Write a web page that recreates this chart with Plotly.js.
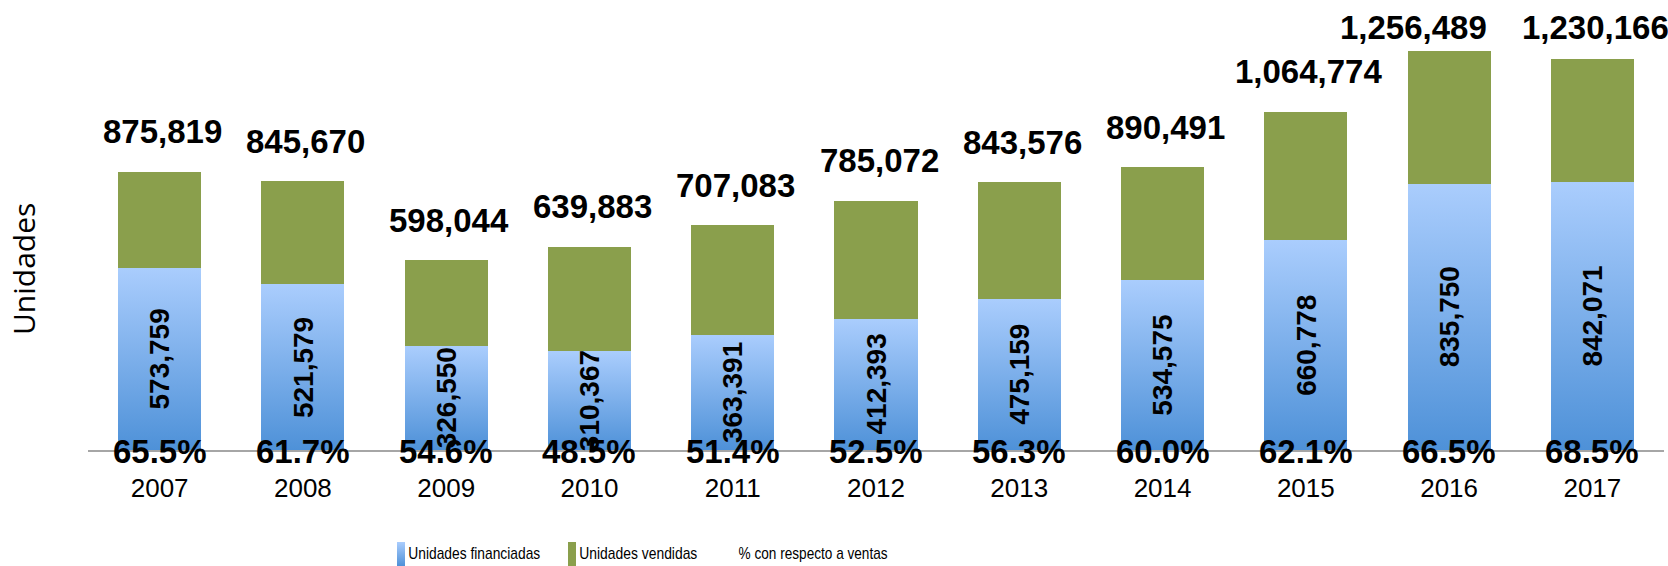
<!DOCTYPE html>
<html>
<head>
<meta charset="utf-8">
<script src="https://cdn.plot.ly/plotly-3.0.1.min.js"></script>
<style>
  html, body { margin: 0; padding: 0; background: #fff; }
  #chart { width: 1668px; height: 566px; }
</style>
</head>
<body>
<div id="chart"></div>
<script>
// ---- data ----
const years = ['2007','2008','2009','2010','2011','2012','2013','2014','2015','2016','2017'];
const financiadas = [573759, 521579, 326550, 310367, 363391, 412393, 475159, 534575, 660778, 835750, 842071];
const vendidasTotal = [875819, 845670, 598044, 639883, 707083, 785072, 843576, 890491, 1064774, 1256489, 1230166];
const porcentaje = [65.5, 61.7, 54.6, 48.5, 51.4, 52.5, 56.3, 60.0, 62.1, 66.5, 68.5];

// ---- layout constants ----
const W = 1668, H = 566;
const M = {l: 88, r: 4, t: 10, b: 116};
const PW = W - M.l - M.r, PH = H - M.t - M.b;
const YMAX = 1385000;
const BOLD = 'Liberation Sans, Arial, sans-serif';
const BIG = 33;
const fmt = v => v.toLocaleString('en-US');
const pxX = px => (px - M.l) / PW;
const pxY = py => (M.t + PH - py) / PH;
const yPix = v => M.t + PH * (1 - v / YMAX);
const xPix = i => M.l + PW * (i + 0.5) / years.length;
const PCT_DROP_PX = 1;

// remainder stacked on top of the financed units, so the bar top equals total sold
const resto = vendidasTotal.map((t, i) => t - financiadas[i]);

const traces = [
  {
    type: 'bar', name: 'Unidades financiadas', x: years, y: financiadas,
    marker: {color: '#7fb1ec', line: {width: 0}}, hoverinfo: 'x+y', showlegend: false
  },
  {
    type: 'bar', name: 'Unidades vendidas', x: years, y: resto,
    customdata: vendidasTotal, hovertemplate: '%{x}: %{customdata:,}<extra></extra>',
    marker: {color: '#8a9f4c', line: {width: 0}}, showlegend: false
  }
];

const annotations = [];
// totals above bars (a label that would collide with the next one is pushed left)
const totalTxt = vendidasTotal.map(fmt);
const estW = s => BIG * (s.replace(/,/g, '').length * 0.556 + (s.match(/,/g) || []).length * 0.278);
const xs = totalTxt.map((s, i) => xPix(i) + 3);
const ys = vendidasTotal.map(t => Math.max(yPix(t) - 40, 27));
for (let i = xs.length - 2; i >= 0; i--) {
  if (Math.abs(ys[i] - ys[i + 1]) > BIG) continue;
  const right = xs[i] + estW(totalTxt[i]) / 2;
  const nextLeft = xs[i + 1] - estW(totalTxt[i + 1]) / 2;
  if (right > nextLeft - 10) xs[i] -= right - (nextLeft - 35);
}
vendidasTotal.forEach((t, i) => {
  annotations.push({
    x: i, y: t, xref: 'x', yref: 'y', yshift: yPix(t) - ys[i], xshift: xs[i] - xPix(i),
    text: '<b>' + totalTxt[i] + '</b>', showarrow: false,
    font: {family: BOLD, size: BIG, color: '#000'}, xanchor: 'center', yanchor: 'middle'
  });
});
// financed values, rotated, inside blue segment
financiadas.forEach((f, i) => {
  annotations.push({
    x: i, y: f / 2, xref: 'x', yref: 'y', textangle: -90,
    text: '<b>' + fmt(f) + '</b>', showarrow: false,
    xanchor: 'center', yanchor: 'middle',
    font: {family: BOLD, size: 28, color: '#000'}
  });
});
// percentage of sales, on the baseline
porcentaje.forEach((p, i) => {
  annotations.push({
    x: i, y: 0, xref: 'x', yref: 'y', yshift: -PCT_DROP_PX,
    text: '<b>' + p.toFixed(1) + '%</b>', showarrow: false,
    xanchor: 'center', yanchor: 'middle',
    font: {family: BOLD, size: BIG, color: '#000'}
  });
});
// y title
annotations.push({
  x: pxX(23), y: pxY(269), xref: 'paper', yref: 'paper', textangle: -90,
  xanchor: 'center', yanchor: 'middle',
  text: 'Unidades', showarrow: false,
  font: {family: 'Open Sans, sans-serif', size: 30, color: '#000'}
});
// custom legend
const legendItems = [
  {swatch: 397, textX: 408, textW: 132, label: 'Unidades financiadas', color: '#7fb1ec'},
  {swatch: 568, textX: 579, textW: 118, label: 'Unidades vendidas', color: '#8a9f4c'},
  {swatch: null, textX: 738, textW: 149, label: '% con respecto a ventas'}
];
const legendAnnStart = annotations.length;
const shapes = [];
legendItems.forEach(it => {
  if (it.swatch !== null) {
    shapes.push({type: 'rect', xref: 'paper', yref: 'paper',
      x0: pxX(it.swatch), x1: pxX(it.swatch + 8), y0: pxY(566), y1: pxY(542),
      fillcolor: it.color, line: {width: 0}});
  }
  annotations.push({
    x: pxX(it.textX + it.textW / 2), y: pxY(553), xref: 'paper', yref: 'paper',
    xanchor: 'center', yanchor: 'middle', text: it.label, showarrow: false,
    font: {family: 'Liberation Sans, Arial, sans-serif', size: 17, color: '#000'}
  });
});

const layout = {
  width: W, height: H,
  margin: M,
  paper_bgcolor: '#fff', plot_bgcolor: '#fff',
  barmode: 'stack', bargap: 0.42,
  showlegend: false,
  xaxis: {
    type: 'category', range: [-0.5, 10.5], fixedrange: true,
    showgrid: false, zeroline: false, showline: true, linecolor: '#a6a6a6', linewidth: 2,
    ticks: '', tickfont: {family: 'Liberation Sans, Arial, sans-serif', size: 26, color: '#000'},
    ticklabelstandoff: 14, layer: 'below traces'
  },
  yaxis: {
    range: [0, YMAX], fixedrange: true, showgrid: false, zeroline: false,
    showline: false, showticklabels: false, ticks: ''
  },
  annotations: annotations,
  shapes: shapes
};

const gd = document.getElementById('chart');
Plotly.newPlot(gd, traces, layout, {displayModeBar: false, staticPlot: true}).then(() => {
  const svg = gd.querySelector('svg.main-svg');
  const ns = 'http://www.w3.org/2000/svg';
  let defs = svg.querySelector('defs');
  if (!defs) { defs = document.createElementNS(ns, 'defs'); svg.insertBefore(defs, svg.firstChild); }
  const grad = document.createElementNS(ns, 'linearGradient');
  grad.setAttribute('id', 'blueGrad');
  grad.setAttribute('x1', '0'); grad.setAttribute('y1', '0');
  grad.setAttribute('x2', '0'); grad.setAttribute('y2', '1');
  [['0%', '#aacdfd'], ['100%', '#4e91d8']].forEach(([o, c]) => {
    const s = document.createElementNS(ns, 'stop');
    s.setAttribute('offset', o); s.setAttribute('stop-color', c);
    grad.appendChild(s);
  });
  defs.appendChild(grad);
  const barTraces = gd.querySelectorAll('.barlayer .trace');
  if (barTraces[0]) barTraces[0].querySelectorAll('path').forEach(p => { p.style.fill = 'url(#blueGrad)'; });
  const shapePaths = gd.querySelectorAll('.shapelayer path');
  if (shapePaths[0]) shapePaths[0].style.fill = 'url(#blueGrad)';
  // condensed legend text, like the reference
  const anns = gd.querySelectorAll('.annotation');
  legendItems.forEach((it, k) => {
    const a = anns[legendAnnStart + k];
    if (!a) return;
    const t = a.querySelector('text');
    if (t) { t.setAttribute('textLength', it.textW); t.setAttribute('lengthAdjust', 'spacingAndGlyphs'); }
    a.querySelectorAll('rect').forEach(r => {
      const w = parseFloat(r.getAttribute('width'));
      const x = parseFloat(r.getAttribute('x')) || 0;
      if (w > it.textW) { r.setAttribute('x', x + (w - it.textW) / 2); r.setAttribute('width', it.textW); }
    });
  });
});
</script>
</body>
</html>
